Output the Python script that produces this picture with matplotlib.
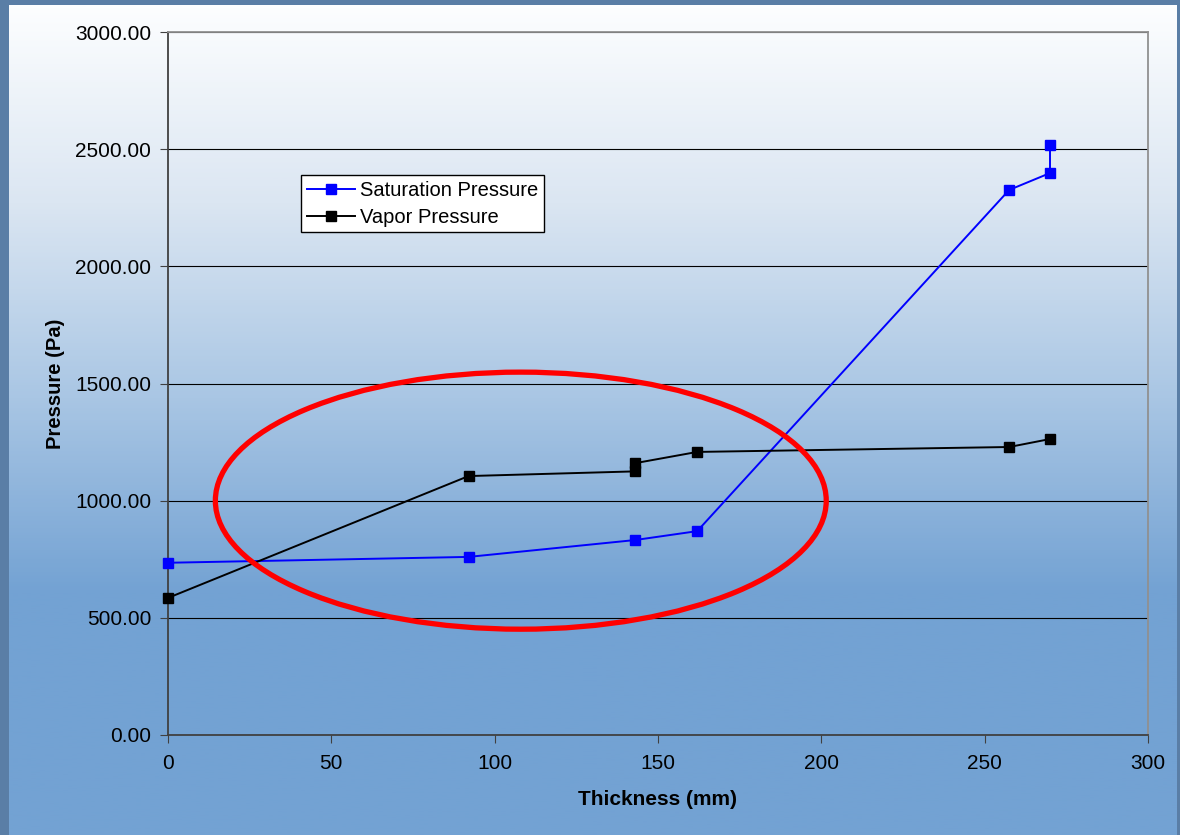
### Saturation vs vapor pressure through the wall thickness ###

import numpy as np
import matplotlib.pyplot as plt
from matplotlib.patches import Ellipse
from matplotlib.colors import LinearSegmentedColormap

# Data
sat_x = [0, 92, 143, 162, 257.5, 270, 270]
sat_y = [735, 760, 832, 870, 2326, 2398, 2518]
vap_x = [0, 92, 143, 143, 162, 257.5, 270]
vap_y = [585, 1105, 1125, 1160, 1208, 1229, 1263]

x_ticks = [0, 50, 100, 150, 200, 250, 300]
y_ticks = [0, 500, 1000, 1500, 2000, 2500, 3000]

plt.rcParams['font.family'] = ['Liberation Sans', 'DejaVu Sans']

fig = plt.figure(figsize=(11.8, 8.35), dpi=100)
fig.patch.set_facecolor('#5a7ea6')

# white -> blue slide panel behind the chart
W, H = 1180, 835
panel = fig.add_axes([9 / W, 0, (1177 - 9) / W, 1 - 5 / H])
panel.set_axis_off()
grad = np.clip(np.linspace(0, 1, 400) / 0.71, 0, 1)[:, None]
cmap = LinearSegmentedColormap.from_list('bg', ['#fdfeff', '#dbe6f2', '#a9c6e4', '#73a2d3'])
panel.imshow(grad, aspect='auto', cmap=cmap, extent=[0, 1, 0, 1], vmin=0, vmax=1)

ax = fig.add_axes([168 / W, 1 - 735 / H, (1148 - 168) / W, (735 - 32) / H])
ax.set_facecolor('none')

ax.plot(sat_x, sat_y, color='#0000ff', marker='s', markersize=7.5, linewidth=1.4,
        label='Saturation Pressure', zorder=4, clip_on=False)
ax.plot(vap_x, vap_y, color='black', marker='s', markersize=7.5, linewidth=1.4,
        label='Vapor Pressure', zorder=4, clip_on=False)

# red highlight ellipse
ax.add_patch(Ellipse((108, 1000), 187, 1097, fill=False, edgecolor='#ff0000',
                     linewidth=3.8, zorder=5))

ax.set_xlim(0, 300)
ax.set_ylim(0, 3000)
ax.set_xticks(x_ticks)
ax.set_xticklabels([str(t) for t in x_ticks])
ax.set_yticks(y_ticks)
ax.set_yticklabels(['%.2f' % t for t in y_ticks])
ax.yaxis.grid(True, color='black', linewidth=0.8)
ax.set_axisbelow(True)
ax.tick_params(axis='both', labelsize=15, direction='out', length=6,
               color='#404040', pad=6)
ax.tick_params(axis='x', pad=8)

for side in ['left', 'bottom']:
    ax.spines[side].set_color('#404040')
    ax.spines[side].set_linewidth(1.3)
for side in ['top', 'right']:
    ax.spines[side].set_color('#909090')
    ax.spines[side].set_linewidth(1.3)

ax.set_xlabel('Thickness (mm)', fontsize=15, fontweight='bold', labelpad=12)
ax.set_ylabel('Pressure (Pa)', fontsize=14.5, fontweight='bold', labelpad=7)

leg = ax.legend(loc='upper left', bbox_to_anchor=(301 / W, 1 - 175 / H),
                bbox_transform=fig.transFigure, fontsize=14.5, frameon=True,
                fancybox=False, framealpha=1, edgecolor='black',
                handlelength=2.4, handletextpad=0.25, borderpad=0.28,
                labelspacing=0.4, borderaxespad=0, markerscale=0.95)
leg.get_frame().set_linewidth(1.0)

fig.savefig('out.png', dpi=100)
